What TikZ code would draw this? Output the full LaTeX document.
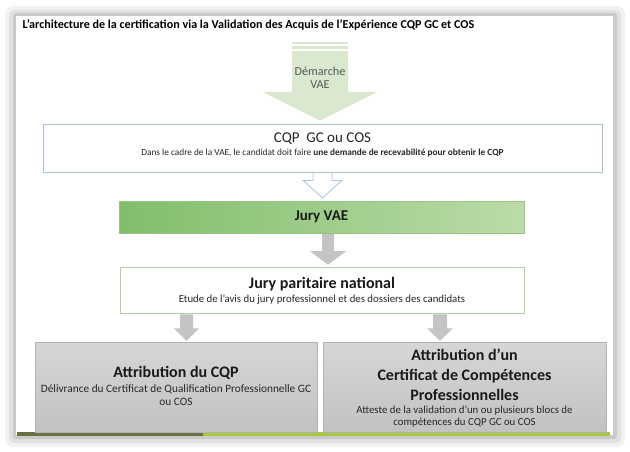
\documentclass[tikz,border=0pt]{standalone}
\usepackage{fontspec}
\setmainfont{Carlito}
\usetikzlibrary{calc,positioning,backgrounds}
\definecolor{arrowgreen}{RGB}{217,232,206}
\definecolor{jurydark}{RGB}{128,190,108}
\definecolor{jurylight}{RGB}{188,219,168}
\definecolor{juryedge}{RGB}{150,196,130}
\definecolor{cqpblue}{RGB}{166,196,224}
\definecolor{paritedge}{RGB}{178,206,162}
\definecolor{greyarrow}{RGB}{196,196,196}
\definecolor{greytop}{RGB}{214,214,214}
\definecolor{greybot}{RGB}{194,194,194}
\definecolor{greyedge}{RGB}{178,178,178}
\definecolor{stripolive}{RGB}{108,110,68}
\definecolor{striplime}{RGB}{166,200,62}
\tikzset{
	x=1pt,
	y=-1pt,
	box/.style={
		rectangle,
		inner sep=0pt
	},
	cqpbox/.style={box, draw=cqpblue, fill=white, line width=0.8pt,
		minimum width=559pt, minimum height=48pt},
	jurybox/.style={box, draw=juryedge, left color=jurydark, right color=jurylight,
		minimum width=405pt, minimum height=32pt},
	paritbox/.style={box, draw=paritedge, fill=white, line width=0.6pt,
		minimum width=404pt, minimum height=46pt},
	attrbox/.style={box, draw=greyedge, top color=greytop, bottom color=greybot,
		minimum width=282pt, minimum height=90pt},
	greyarr/.style={fill=greyarrow, draw=none},
	bigtext/.style={font=\fontsize{16}{20}\selectfont\bfseries, text=black!90, align=center},
	smalltext/.style={font=\fontsize{10.8}{12}\selectfont, text=black!85, align=center}
}
\begin{document}
\begin{tikzpicture}
  \useasboundingbox (0,0) rectangle (630,452);

  % slide frame with soft shadow
  \fill[black, opacity=0.05, rounded corners=8pt] (5,6) rectangle (625,447);
  \fill[black, opacity=0.07, rounded corners=5pt] (9,10) rectangle (621,443);
  \fill[black, opacity=0.10, rounded corners=3pt] (13,13) rectangle (617,439);
  \fill[white] (16,16) rectangle (613,435);
  \fill[stripolive] (17,432) rectangle (203,436);
  \fill[striplime] (203,432) rectangle (610,436);

  \node[anchor=west, font=\fontsize{12.1}{14}\selectfont\bfseries] (title) at (19,25)
    {L’architecture de la certification via la Validation des Acquis de l’Expérience CQP GC et COS};

  % boxes
  \node[cqpbox] (cqp) at (322.5,148) {};
  \node[font=\fontsize{15}{18}\selectfont, text=black!85] (cqptitle) at ($(cqp.north)+(0,15)$) {CQP\ \ GC ou COS};
  \node[font=\fontsize{9.3}{11}\selectfont, text=black!85] (cqpsub) at ($(cqp.north)+(0,29)$)
    {Dans le cadre de la VAE, le candidat doit faire \textbf{une demande de recevabilité pour obtenir le CQP}};

  \node[jurybox] (juryvae) at (321.5,217) {};
  \node[font=\fontsize{15}{17}\selectfont\bfseries, text=black!90] at (juryvae.center) {Jury VAE};

  \node[paritbox] (parit) at (322,290) {};
  \node[font=\fontsize{16}{18}\selectfont\bfseries, text=black!90] (parittitle) at ($(parit.north)+(0,17)$) {Jury paritaire national};
  \node[font=\fontsize{10.8}{12}\selectfont, text=black!85] (paritsub) at ($(parit.north)+(0,33)$)
    {Etude de l’avis du jury professionnel et des dossiers des candidats};

  \node[attrbox] (attrcqp) at (176,387) {};
  \node[text=black!90, font=\fontsize{16}{18}\selectfont\bfseries] (attrcqptitle) at ($(attrcqp.north)+(0,31)$) {Attribution du CQP};
  \node[text=black!85, align=center, font=\fontsize{11.3}{13}\selectfont] (attrcqpsub) at ($(attrcqp.north)+(0,53.5)$)
    {Délivrance du Certificat de Qualification Professionnelle GC\\ou COS};

  \node[attrbox, minimum width=283pt] (attrccp) at (464.5,387) {};
  \node[bigtext] (attrccptitle) at ($(attrccp.north)+(0,33)$)
    {Attribution d’un\\Certificat de Compétences\\Professionnelles};
  \node[smalltext] (attrccpsub) at ($(attrccp.north)+(0,75)$)
    {Atteste de la validation d’un ou plusieurs blocs de\\compétences du CQP GC ou COS};

  % green arrow: Démarche VAE
  \coordinate (demarche) at (320,78);
  \fill[arrowgreen] ($(demarche)+(-28,-36)$) rectangle ($(demarche)+(28,-34)$);
  \fill[arrowgreen] ($(demarche)+(-28,-32)$) rectangle ($(demarche)+(28,-29)$);
  \fill[arrowgreen] ($(demarche)+(-28,-27)$) -- ($(demarche)+(-28,14)$) -- ($(demarche)+(-57,14)$)
    -- ($(demarche |- cqp.north)+(0,-3)$)
    -- ($(demarche)+(57,14)$) -- ($(demarche)+(28,14)$) -- ($(demarche)+(28,-27)$) -- cycle;
  \node[font=\fontsize{12.2}{13.5}\selectfont, text=black!65, align=center] (demarchetext) at (demarche) {Démarche\\VAE};

  % hollow arrow
  \draw[cqpblue, line width=0.8pt, line join=miter] ($(cqp.south)+(-9.5,0)$) -- ++(0,8) -- ++(-10,0)
    -- ($(cqp.south |- juryvae.north)+(0,-3)$)
    -- ($(cqp.south)+(19.5,8)$) -- ++(-10,0) -- ++(0,-8);

  % grey arrows
  \coordinate (a1) at ($(juryvae.south)+(6.5,1)$);
  \fill[greyarr] ($(a1)+(-6,0)$) -- ++(0,17) -- ++(-12,0)
    -- ($(a1 |- parit.north)+(0,-2)$)
    -- ($(a1)+(18,17)$) -- ++(-12,0) -- ++(0,-17) -- cycle;

  \coordinate (a2) at ($(parit.south -| attrcqp.north)+(10.5,1)$);
  \fill[greyarr] ($(a2)+(-6.5,0)$) -- ++(0,14) -- ++(-6,0)
    -- ($(a2 |- attrcqp.north)+(0,-1)$)
    -- ($(a2)+(12.5,14)$) -- ++(-6,0) -- ++(0,-14) -- cycle;

  \coordinate (a3) at ($(parit.south -| attrccp.north)+(-24.5,1)$);
  \fill[greyarr] ($(a3)+(-7,0)$) -- ++(0,14) -- ++(-6,0)
    -- ($(a3 |- attrccp.north)+(0,-1)$)
    -- ($(a3)+(13,14)$) -- ++(-6,0) -- ++(0,-14) -- cycle;
\end{tikzpicture}
\end{document}
